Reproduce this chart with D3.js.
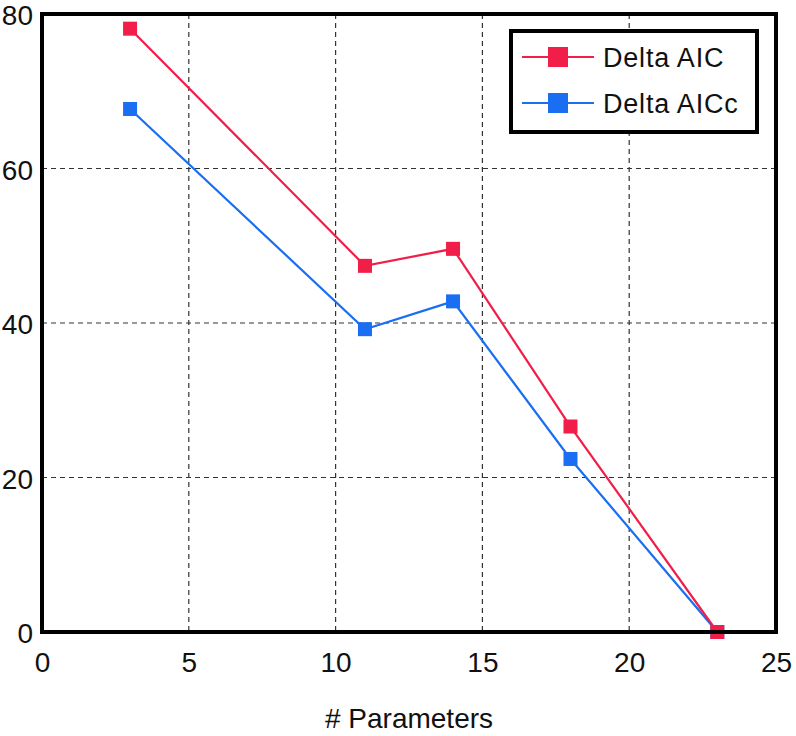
<!DOCTYPE html>
<html>
<head>
<meta charset="utf-8">
<script src="https://cdn.jsdelivr.net/npm/d3@7"></script>
<style>
  html, body { margin: 0; padding: 0; background: #fff; }
  svg { display: block; font-family: "Liberation Sans", Arial, sans-serif; }
</style>
</head>
<body>
<svg id="chart" width="796" height="736"></svg>
<script>
const params = [3, 11, 14, 18, 23];
const deltaAIC = [78.1, 47.4, 49.6, 26.6, 0];
const deltaAICc = [67.7, 39.2, 42.8, 22.4, 0];
const xTicks = [0, 5, 10, 15, 20, 25];
const yTicks = [0, 20, 40, 60, 80];
const seriesNames = ["Delta AIC", "Delta AICc"];
const seriesColors = ["#f01e48", "#1a6ef2"];

const svg = d3.select("#chart");
const L = 42, R = 776, T = 14, B = 632;
const x = d3.scaleLinear().domain([0, 25]).range([L, R]);
const y = d3.scaleLinear().domain([0, 80]).range([B, T]);

// grid
const grid = svg.append("g");
grid.selectAll("line.v").data(xTicks.filter(d => d > 0 && d < 25)).join("line")
  .attr("x1", d => x(d)).attr("x2", d => x(d)).attr("y1", T).attr("y2", B)
  .attr("stroke", "#333").attr("stroke-width", 1.2).attr("stroke-dasharray", "5,4");
grid.selectAll("line.h").data(yTicks.filter(d => d > 0 && d < 80)).join("line")
  .attr("y1", d => y(d)).attr("y2", d => y(d)).attr("x1", L).attr("x2", R)
  .attr("stroke", "#333").attr("stroke-width", 1.2).attr("stroke-dasharray", "5,4");

// axes (labels only)
const xAxis = svg.append("g").attr("transform", `translate(0,${B})`)
  .call(d3.axisBottom(x).tickValues(xTicks).tickSize(0).tickPadding(20));
const yAxis = svg.append("g").attr("transform", `translate(${L},0)`)
  .call(d3.axisLeft(y).tickValues(yTicks).tickSize(0).tickPadding(9));
[xAxis, yAxis].forEach(a => {
  a.select(".domain").remove();
  a.selectAll("text").attr("font-size", 28).attr("fill", "#111")
    .attr("font-family", "'Liberation Sans', Arial, sans-serif");
});
yAxis.selectAll("text").attr("dy", "0.38em");
xAxis.selectAll("text").attr("dy", "0.71em").attr("y", 20);

// series
const data = [deltaAIC, deltaAICc];
const line = d3.line().x(d => x(d[0])).y(d => y(d[1]));
const ms = 14;
// draw blue first then red on top
[1, 0].forEach(i => {
  const pts = params.map((p, j) => [p, data[i][j]]);
  const g = svg.append("g");
  g.append("path").datum(pts).attr("d", line)
    .attr("fill", "none").attr("stroke", seriesColors[i]).attr("stroke-width", 2.2);
  g.selectAll("rect").data(pts).join("rect")
    .attr("x", d => x(d[0]) - ms / 2).attr("y", d => y(d[1]) - ms / 2)
    .attr("width", ms).attr("height", ms).attr("fill", seriesColors[i]);
});

// frame
svg.append("rect").attr("x", L).attr("y", T).attr("width", R - L).attr("height", B - T)
  .attr("fill", "none").attr("stroke", "#000").attr("stroke-width", 4);

// legend
const lg = svg.append("g");
lg.append("rect").attr("x", 511).attr("y", 31).attr("width", 246).attr("height", 101)
  .attr("fill", "#fff").attr("stroke", "#000").attr("stroke-width", 4);
seriesNames.forEach((name, i) => {
  const ly = 57 + i * 46;
  lg.append("line").attr("x1", 522).attr("x2", 594).attr("y1", ly).attr("y2", ly)
    .attr("stroke", seriesColors[i]).attr("stroke-width", 2.2);
  lg.append("rect").attr("x", 548).attr("y", ly - 10).attr("width", 20).attr("height", 20)
    .attr("fill", seriesColors[i]);
  lg.append("text").attr("x", 603).attr("y", ly).attr("dy", "0.36em")
    .attr("font-size", 27).attr("letter-spacing", 0.8).attr("fill", "#111").text(name);
});

// x label
svg.append("text").attr("x", 409).attr("y", 728).attr("text-anchor", "middle")
  .attr("font-size", 28).attr("fill", "#111").text("# Parameters");
</script>
</body>
</html>
